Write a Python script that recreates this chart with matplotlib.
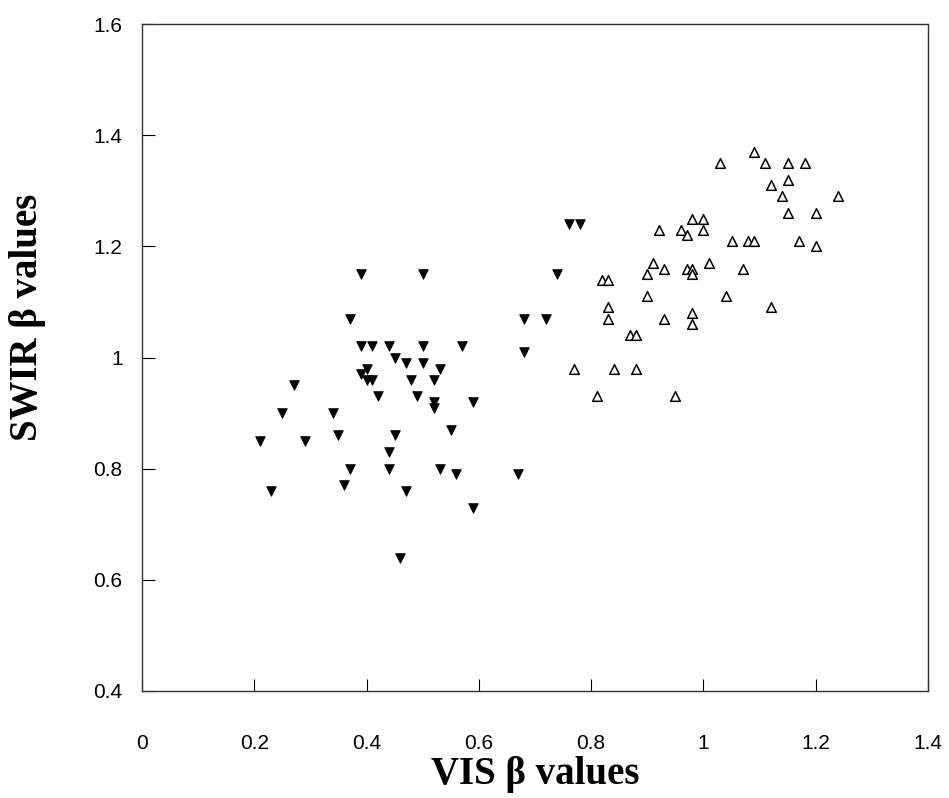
import matplotlib
matplotlib.use("Agg")
import matplotlib.pyplot as plt

# --- Data ---
# filled down-triangles (lower VIS group)
vis_low = [0.39, 0.50, 0.37, 0.39, 0.41, 0.44, 0.50, 0.57, 0.45, 0.47, 0.50, 0.53,
           0.40, 0.39, 0.40, 0.41, 0.48, 0.52, 0.42, 0.49, 0.52, 0.52, 0.59, 0.27,
           0.25, 0.34, 0.21, 0.29, 0.35, 0.45, 0.55, 0.44, 0.37, 0.44, 0.53, 0.56,
           0.36, 0.23, 0.47, 0.59, 0.46, 0.74, 0.68, 0.72, 0.68, 0.67, 0.76, 0.78]
swir_low = [1.15, 1.15, 1.07, 1.02, 1.02, 1.02, 1.02, 1.02, 1.00, 0.99, 0.99, 0.98,
            0.98, 0.97, 0.96, 0.96, 0.96, 0.96, 0.93, 0.93, 0.92, 0.91, 0.92, 0.95,
            0.90, 0.90, 0.85, 0.85, 0.86, 0.86, 0.87, 0.83, 0.80, 0.80, 0.80, 0.79,
            0.77, 0.76, 0.76, 0.73, 0.64, 1.15, 1.07, 1.07, 1.01, 0.79, 1.24, 1.24]

# open up-triangles (higher VIS group)
vis_high = [1.03, 1.09, 1.11, 1.15, 1.18, 1.12, 1.15, 1.14, 1.24, 1.15, 1.20, 0.98,
            1.00, 0.92, 0.96, 1.00, 0.97, 1.05, 1.08, 1.09, 1.17, 1.20, 0.91, 1.01,
            0.93, 0.97, 0.98, 1.07, 0.90, 0.98, 0.82, 0.83, 0.90, 1.04, 0.83, 1.12,
            0.83, 0.93, 0.98, 0.98, 0.87, 0.88, 0.77, 0.84, 0.88, 0.81, 0.95]
swir_high = [1.35, 1.37, 1.35, 1.35, 1.35, 1.31, 1.32, 1.29, 1.29, 1.26, 1.26, 1.25,
             1.25, 1.23, 1.23, 1.23, 1.22, 1.21, 1.21, 1.21, 1.21, 1.20, 1.17, 1.17,
             1.16, 1.16, 1.16, 1.16, 1.15, 1.15, 1.14, 1.14, 1.11, 1.11, 1.09, 1.09,
             1.07, 1.07, 1.08, 1.06, 1.04, 1.04, 0.98, 0.98, 0.98, 0.93, 0.93]

x_ticks = [0, 0.2, 0.4, 0.6, 0.8, 1.0, 1.2, 1.4]
x_tick_labels = ["0", "0.2", "0.4", "0.6", "0.8", "1", "1.2", "1.4"]
y_ticks = [0.4, 0.6, 0.8, 1.0, 1.2, 1.4, 1.6]
y_tick_labels = ["0.4", "0.6", "0.8", "1", "1.2", "1.4", "1.6"]

fig = plt.figure(figsize=(9.49, 7.98), dpi=100)
ax = fig.add_axes([0.1496, 0.1341, 0.8283, 0.8358])

ax.scatter(vis_low, swir_low, marker="v", s=48, c="black", edgecolors="black",
           linewidths=0.6, zorder=3)
ax.scatter(vis_high, swir_high, marker="^", s=48, facecolors="white",
           edgecolors="black", linewidths=1.1, zorder=3)

ax.set_xlim(0, 1.4)
ax.set_ylim(0.4, 1.6)
ax.set_xticks(x_ticks)
ax.set_xticklabels(x_tick_labels)
ax.set_yticks(y_ticks)
ax.set_yticklabels(y_tick_labels)

for lbl in ax.get_xticklabels() + ax.get_yticklabels():
    lbl.set_fontfamily("Liberation Sans")
    lbl.set_fontsize(15)

ax.tick_params(axis="both", direction="in", length=9, width=0.8, color="black")
ax.tick_params(axis="x", pad=31)
ax.tick_params(axis="y", pad=14)

for side in ax.spines.values():
    side.set_linewidth(1.0)
    side.set_color("#333333")

# axis titles, bold serif like the original
ax.set_xlabel("VIS \u03b2 values", family="Liberation Serif", size=28, weight="bold")
ax.set_ylabel("SWIR \u03b2 values", family="Liberation Serif", size=28, weight="bold")
ax.xaxis.set_label_coords(0.5, -0.097)
ax.yaxis.set_label_coords(-0.122, 0.56)

fig.savefig("out.png", dpi=100)
